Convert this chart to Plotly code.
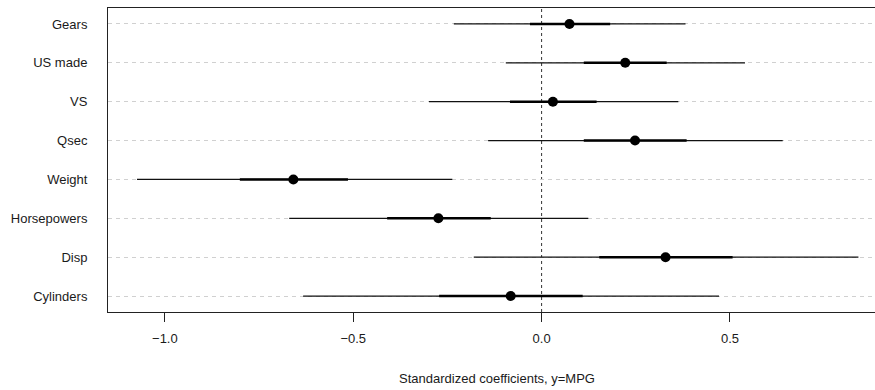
import plotly.graph_objects as go

labels = ["Cylinders", "Disp", "Horsepowers", "Weight", "Qsec", "VS", "US made", "Gears"]
estimate = [-0.082, 0.329, -0.274, -0.659, 0.248, 0.030, 0.222, 0.074]
lo_outer = [-0.633, -0.180, -0.670, -1.074, -0.142, -0.299, -0.095, -0.233]
hi_outer = [0.471, 0.841, 0.124, -0.237, 0.640, 0.363, 0.540, 0.382]
lo_inner = [-0.272, 0.153, -0.410, -0.801, 0.112, -0.084, 0.112, -0.031]
hi_inner = [0.109, 0.507, -0.135, -0.514, 0.385, 0.146, 0.332, 0.182]
x_ticks = [-1.0, -0.5, 0.0, 0.5]
x_title = "Standardized coefficients, y=MPG"

ypos = list(range(1, len(labels) + 1))

def segs(lo, hi):
    xs, ys = [], []
    for a, b, y in zip(lo, hi, ypos):
        xs += [a, b, None]
        ys += [y, y, None]
    return xs, ys

fig = go.Figure()
xo, yo = segs(lo_outer, hi_outer)
fig.add_trace(go.Scatter(x=xo, y=yo, mode="lines", line=dict(color="#111111", width=1.2),
                         hoverinfo="skip", showlegend=False))
xi, yi = segs(lo_inner, hi_inner)
fig.add_trace(go.Scatter(x=xi, y=yi, mode="lines", line=dict(color="#000000", width=2.6),
                         hoverinfo="skip", showlegend=False))
fig.add_trace(go.Scatter(x=estimate, y=ypos, mode="markers",
                         marker=dict(color="#000000", size=10, line=dict(width=0)),
                         showlegend=False))

fig.add_vline(x=0, line=dict(color="#333333", width=1, dash="3px,3px"), layer="below")

# axis title (centred on the full, partly cropped plotting region)
fig.add_annotation(text=x_title, xref="paper", yref="paper", x=0.5078, y=-0.218,
                   xanchor="center", yanchor="middle", showarrow=False,
                   font=dict(size=13, color="#1a1a1a"))

font = "Liberation Sans, Arial, sans-serif"
fig.update_layout(
    width=875, height=390,
    margin=dict(l=108, r=0, t=8, b=78),
    paper_bgcolor="white", plot_bgcolor="white",
    font=dict(family=font, size=13, color="#1a1a1a"),
    xaxis=dict(range=[-1.151, 0.885], tickvals=x_ticks,
               ticktext=["\u22121.0", "\u22120.5", "0.0", "0.5"],
               showgrid=False, zeroline=False, showline=True, mirror=True,
               linecolor="#222222", linewidth=1,
               ticks="outside", ticklen=9, tickcolor="#222222", tickwidth=1,
               ticklabelstandoff=5,
               fixedrange=True),
    yaxis=dict(range=[0.59, 8.41], tickvals=ypos, ticktext=labels,
               showgrid=True, gridcolor="#d0d0d0", gridwidth=1, griddash="4px,4px",
               zeroline=False, showline=True, mirror=False,
               linecolor="#222222", linewidth=1, ticks="", ticklabelstandoff=17,
               fixedrange=True),
)

fig.write_html("out.html")
